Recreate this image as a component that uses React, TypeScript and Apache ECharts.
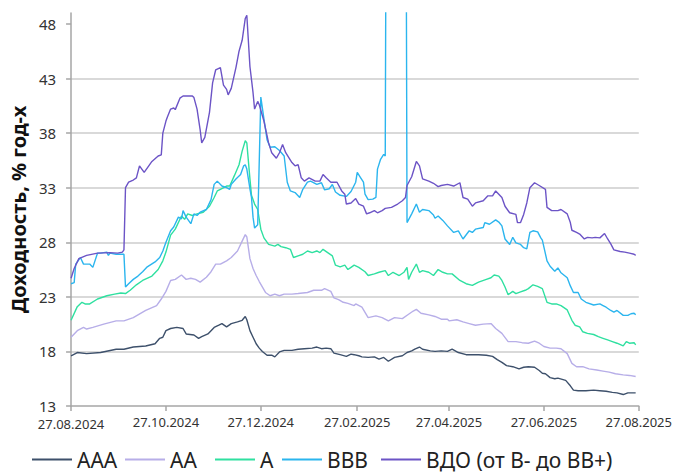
import { useEffect, useRef } from 'react';
import * as echarts from 'echarts';

// Day offsets from 27.08.2024 and their labels
const tickDays = [0, 61, 122, 184, 243, 304, 365];
const tickLabels = ['27.08.2024', '27.10.2024', '27.12.2024', '27.02.2025', '27.04.2025', '27.06.2025', '27.08.2025'];
const yTicks = [13, 18, 23, 28, 33, 38, 43, 48];

const seriesNames = ['ААА', 'АА', 'А', 'ВВВ', 'ВДО (от В- до ВВ+)'];
const seriesColors = ['#3d506b', '#b7aee8', '#2fe0a0', '#2bb5ee', '#6c54c6'];

// [day offset, yield %]
const aaa: [number, number][] = [
  [0, 17.6], [4, 17.9], [10, 17.8], [19, 17.9], [29, 18.2], [34, 18.2], [40, 18.4], [48, 18.5], [54, 18.7], [57, 19.2], [59, 19.3],
  [61, 19.9], [64, 20.1], [68, 20.2], [72, 20.1], [74, 19.6], [79, 19.5], [82, 19.2], [84, 19.35], [88, 19.6], [92, 20.2], [95, 20.4],
  [97, 20.55], [100, 20.25], [103, 20.55], [107, 20.7], [110, 20.85], [112, 21.2], [113, 20.9], [115, 19.9], [117, 19.3], [119, 18.7],
  [121, 18.3], [123, 18.0], [126, 17.65], [129, 17.65], [131, 17.5], [134, 17.95], [137, 18.1], [142, 18.1], [146, 18.2], [150, 18.25],
  [155, 18.3], [158, 18.4], [161, 18.25], [164, 18.3], [167, 18.25], [169, 17.85], [173, 17.7], [177, 17.55], [180, 17.75], [182, 17.7],
  [185, 17.6], [187, 17.5], [191, 17.45], [195, 17.5], [198, 17.3], [201, 17.45], [204, 17.1], [208, 17.45], [213, 17.6], [216, 17.9],
  [219, 18.05], [221, 18.2], [224, 18.4], [226, 18.2], [231, 18.05], [234, 18.0], [238, 18.05], [242, 18.0], [245, 18.2], [249, 17.9],
  [254, 17.7], [258, 17.7], [262, 17.7], [267, 17.65], [271, 17.55], [274, 17.25], [277, 17.0], [280, 16.7], [284, 16.6], [288, 16.4],
  [291, 16.55], [294, 16.6], [298, 16.55], [301, 16.25], [303, 16.0], [305, 15.95], [308, 15.6], [311, 15.5], [313, 15.55], [318, 15.35],
  [321, 14.85], [323, 14.45], [326, 14.4], [331, 14.4], [336, 14.45], [340, 14.4], [344, 14.35], [348, 14.25], [351, 14.2], [355, 14.05],
  [358, 14.2], [361, 14.2], [363, 14.2],
];

const aa: [number, number][] = [
  [0, 19.3], [4, 19.9], [8, 20.2], [10, 20.05], [14, 20.2], [21, 20.5], [29, 20.8], [34, 20.8], [40, 21.1], [48, 21.75], [55, 22.2],
  [58, 22.8], [61, 23.5], [64, 24.5], [67, 24.6], [71, 25.0], [74, 24.6], [77, 24.7], [80, 24.6], [83, 24.35], [87, 24.8], [90, 25.3],
  [93, 26.0], [96, 26.0], [100, 26.3], [103, 26.6], [107, 27.2], [110, 28.1], [112, 28.7], [113, 28.5], [115, 26.5], [117, 25.6],
  [119, 24.95], [121, 24.4], [125, 23.4], [128, 23.1], [131, 23.25], [134, 23.1], [137, 23.25], [142, 23.25], [146, 23.3], [152, 23.4],
  [156, 23.6], [161, 23.6], [163, 23.75], [167, 23.5], [169, 22.9], [172, 22.75], [175, 22.5], [178, 22.4], [182, 22.2], [183, 22.35],
  [187, 22.05], [191, 21.1], [196, 21.25], [200, 21.1], [204, 20.8], [208, 21.1], [213, 21.0], [217, 21.4], [220, 21.7], [222, 21.85],
  [225, 21.5], [230, 21.35], [234, 21.2], [238, 20.95], [242, 20.95], [243, 20.8], [248, 20.9], [252, 20.7], [256, 20.55], [260, 20.4],
  [265, 20.5], [270, 20.55], [273, 20.1], [277, 19.65], [281, 18.9], [286, 18.9], [290, 18.8], [294, 18.75], [298, 18.95], [301, 18.75],
  [304, 18.45], [308, 18.3], [312, 18.3], [315, 18.25], [319, 17.8], [322, 16.9], [325, 16.6], [329, 16.6], [333, 16.4], [338, 16.3],
  [342, 16.2], [346, 16.1], [350, 15.95], [355, 15.85], [359, 15.8], [363, 15.7],
];

const a: [number, number][] = [
  [0, 20.85], [4, 22.1], [7, 22.5], [9, 22.35], [12, 22.35], [17, 22.8], [23, 23.1], [28, 23.25], [32, 23.35], [35, 23.3], [38, 23.6],
  [42, 24.1], [46, 24.5], [52, 24.9], [56, 25.5], [59, 26.3], [61, 27.1], [64, 28.65], [67, 29.2], [71, 30.4], [73, 30.1], [75, 30.6],
  [78, 30.45], [81, 30.6], [85, 30.75], [89, 31.3], [92, 32.1], [94, 32.7], [96, 32.85], [100, 33.15], [102, 33.15], [105, 34.1],
  [108, 35.1], [110, 36.35], [112, 37.3], [113, 37.1], [115, 33.8], [116, 32.3], [118, 31.5], [120, 31.0], [122, 29.2], [124, 28.4],
  [127, 27.8], [131, 27.65], [133, 27.8], [135, 27.6], [138, 27.5], [141, 27.35], [143, 26.6], [146, 26.75], [149, 26.9], [152, 27.2],
  [155, 27.05], [158, 27.2], [160, 27.05], [162, 27.35], [165, 27.05], [168, 26.75], [170, 25.9], [173, 25.75], [176, 25.9], [178, 25.5],
  [180, 25.7], [182, 25.9], [185, 25.7], [189, 25.3], [191, 24.95], [195, 25.1], [198, 25.25], [202, 25.4], [204, 24.95], [207, 25.25],
  [211, 24.95], [214, 25.25], [216, 25.7], [217, 24.6], [219, 25.25], [222, 26.0], [224, 25.25], [226, 25.4], [230, 25.25], [233, 24.95],
  [236, 25.5], [239, 25.25], [242, 25.1], [245, 25.1], [250, 24.5], [254, 24.2], [258, 24.05], [262, 24.35], [267, 24.6], [270, 24.75],
  [272, 25.0], [275, 24.9], [277, 24.5], [279, 23.9], [281, 23.2], [284, 23.5], [286, 23.3], [289, 23.45], [292, 23.6], [294, 23.75],
  [297, 24.1], [300, 23.95], [303, 23.75], [306, 22.5], [309, 22.35], [312, 22.35], [315, 22.2], [319, 21.8], [322, 20.85], [324, 20.4],
  [327, 20.25], [329, 19.8], [332, 19.65], [336, 19.55], [339, 19.35], [342, 19.2], [345, 19.05], [348, 18.9], [351, 18.75], [355, 18.5],
  [357, 18.9], [359, 18.75], [362, 18.8], [363, 18.6],
];

const bbb: [number, number][] = [
  [0, 24.2], [2, 24.3], [3, 26.0], [6, 26.6], [8, 26.0], [12, 26.0], [14, 25.7], [17, 27.0], [19, 27.0], [23, 27.1], [24, 26.8],
  [25, 27.0], [29, 26.9], [34, 26.9], [35, 23.9], [37, 24.2], [40, 24.6], [43, 24.9], [46, 25.3], [49, 25.75], [54, 26.2], [57, 26.6],
  [59, 27.2], [61, 28.0], [64, 29.05], [66, 29.4], [69, 30.3], [71, 30.15], [72, 30.9], [74, 30.3], [77, 29.7], [79, 30.6], [81, 30.45],
  [83, 30.75], [87, 31.0], [90, 31.9], [92, 33.3], [94, 33.6], [97, 33.15], [100, 33.0], [102, 32.85], [103, 33.3], [106, 33.8],
  [109, 34.2], [111, 35.0], [112, 35.1], [113, 34.7], [115, 32.9], [116, 32.1], [117, 30.3], [118, 29.3], [120, 29.6], [122, 41.3],
  [124, 39.3], [126, 37.4], [128, 36.7], [131, 36.75], [134, 36.4], [137, 35.9], [139, 33.5], [141, 32.7], [144, 32.55], [147, 32.1],
  [149, 32.85], [152, 33.5], [154, 33.6], [158, 33.3], [161, 33.45], [163, 32.8], [166, 32.9], [168, 33.3], [170, 32.6], [173, 32.3],
  [177, 32.2], [180, 32.65], [183, 33.5], [184, 34.4], [186, 33.95], [188, 33.5], [189, 32.4], [191, 31.9], [194, 31.95], [196, 32.1],
  [197, 34.7], [199, 35.6], [201, 36.05], [202, 35.9], [203, 80], [215, 80], [216, 29.8], [219, 30.6], [222, 31.5], [224, 30.75],
  [226, 31.0], [230, 30.9], [233, 30.5], [234, 30.2], [236, 30.4], [239, 30.0], [242, 29.5], [246, 28.9], [249, 29.05], [252, 28.3],
  [256, 29.05], [258, 28.9], [260, 29.2], [265, 29.35], [266, 29.8], [269, 29.65], [273, 30.05], [275, 29.85], [277, 29.5], [279, 28.3],
  [282, 27.8], [284, 28.45], [286, 27.95], [289, 27.8], [291, 27.5], [293, 27.4], [295, 28.9], [297, 29.05], [300, 28.95], [302, 28.4],
  [303, 28.2], [306, 26.3], [308, 25.8], [311, 25.35], [313, 25.65], [315, 25.2], [319, 24.75], [321, 24.0], [323, 23.4], [326, 23.4],
  [328, 22.8], [331, 22.5], [336, 22.25], [340, 22.35], [342, 22.2], [344, 22.05], [347, 21.75], [349, 21.6], [351, 21.75], [355, 21.3],
  [358, 21.3], [360, 21.45], [362, 21.5], [363, 21.35],
];

const vdo: [number, number][] = [
  [0, 24.7], [2, 25.6], [5, 26.5], [10, 26.8], [17, 27.0], [25, 27.05], [30, 27.0], [33, 27.1], [34, 27.3], [35, 33.0], [37, 33.5],
  [40, 33.7], [42, 33.9], [44, 35.0], [47, 34.4], [52, 35.4], [56, 35.9], [58, 36.0], [59, 38.0], [61, 39.1], [62, 39.5], [64, 40.2],
  [66, 40.3], [67, 40.15], [70, 41.2], [72, 41.4], [78, 41.4], [79, 41.25], [81, 40.2], [83, 38.3], [84, 37.1], [86, 37.6], [89, 39.9],
  [91, 42.6], [93, 43.8], [96, 44.0], [98, 42.4], [100, 42.0], [101, 41.5], [103, 42.1], [106, 44.0], [108, 45.5], [110, 46.5],
  [112, 48.5], [113, 48.8], [115, 44.1], [117, 41.7], [118, 40.2], [120, 40.9], [121, 40.6], [124, 39.1], [127, 37.1], [129, 36.2],
  [132, 35.7], [134, 36.2], [136, 36.95], [138, 36.2], [142, 35.3], [144, 35.0], [146, 35.1], [148, 33.9], [150, 33.6], [153, 33.9],
  [157, 33.6], [160, 33.6], [162, 34.2], [164, 33.9], [167, 33.5], [171, 33.5], [174, 32.7], [176, 32.4], [177, 31.5], [180, 31.6],
  [183, 32.0], [185, 31.5], [188, 31.3], [190, 30.6], [192, 30.7], [195, 30.9], [197, 30.7], [200, 30.9], [202, 31.1], [206, 31.2],
  [210, 31.5], [213, 31.8], [215, 32.1], [216, 33.2], [219, 34.0], [222, 35.4], [224, 35.0], [226, 33.8], [230, 33.6], [233, 33.4],
  [236, 33.1], [238, 33.2], [242, 33.3], [246, 33.15], [250, 33.45], [252, 32.1], [255, 31.95], [258, 31.3], [260, 31.6], [265, 31.8],
  [268, 32.25], [271, 32.25], [273, 32.7], [275, 32.4], [277, 32.1], [279, 31.3], [282, 30.7], [286, 30.55], [287, 29.8], [289, 29.8],
  [291, 30.55], [293, 31.6], [295, 33.0], [298, 33.45], [301, 33.2], [305, 32.85], [306, 31.2], [309, 30.9], [313, 30.9], [315, 31.0],
  [319, 30.6], [321, 29.8], [322, 29.1], [325, 28.9], [327, 28.75], [330, 28.3], [332, 28.45], [335, 28.4], [337, 28.45], [340, 28.4],
  [343, 28.8], [345, 28.3], [347, 27.85], [349, 27.3], [353, 27.15], [356, 27.1], [359, 27.0], [362, 26.9], [363, 26.8],
];

const seriesData = [aaa, aa, a, bbb, vdo];
const legendLeft = [32, 125, 215, 282, 381];

const FONT = "'Noto Sans', sans-serif";

export default function App() {
  const ref = useRef<HTMLDivElement>(null);

  useEffect(() => {
    if (!ref.current) return;
    const chart = echarts.init(ref.current, null, { renderer: 'svg' });
    chart.setOption({
      animation: false,
      backgroundColor: '#ffffff',
      textStyle: { fontFamily: FONT },
      grid: { left: 69, right: 32, top: 13, bottom: 66, containLabel: false },
      legend: seriesNames.map((n, i) => ({
        data: [n],
        left: legendLeft[i],
        top: 449,
        padding: 0,
        itemWidth: 40,
        itemHeight: 2,
        icon: 'rect',
        selectedMode: false,
        textStyle: { fontSize: 21, color: '#222', fontFamily: FONT, lineHeight: 21 },
      })),
      xAxis: {
        type: 'value',
        min: 0,
        max: 365,
        axisLine: { show: true, lineStyle: { color: '#a6a6a6', width: 1.5 } },
        axisTick: { show: true, length: 5, customValues: tickDays, lineStyle: { color: '#a6a6a6', width: 1.5 } },
        axisLabel: {
          customValues: tickDays,
          formatter: (v: number) => {
            const i = tickDays.indexOf(v);
            if (i < 0) return '';
            return i === 0 ? '{first|' + tickLabels[i] + '}' : tickLabels[i];
          },
          rich: {
            first: { fontSize: 13, lineHeight: 13, color: '#333', fontFamily: FONT, padding: [4, 0, 0, 0] },
          },
          fontSize: 13,
          lineHeight: 13,
          color: '#333',
          margin: 9,
          fontFamily: FONT,
        },
        splitLine: { show: false },
      },
      yAxis: {
        type: 'value',
        min: 13,
        max: 49,
        interval: 5,
        name: 'Доходность, % год-х',
        nameLocation: 'middle',
        nameGap: 32,
        nameTextStyle: { fontSize: 20, fontWeight: 'bold', color: '#111', fontFamily: FONT },
        axisLine: { show: true, lineStyle: { color: '#a6a6a6', width: 1.5 } },
        axisTick: { show: true, length: 5, customValues: yTicks, lineStyle: { color: '#a6a6a6', width: 1.5 } },
        axisLabel: {
          customValues: yTicks,
          formatter: (v: number) => (yTicks.includes(v) ? String(v) : ''),
          fontSize: 15,
          lineHeight: 13,
          color: '#333',
          margin: 15,
          fontFamily: FONT,
        },
        splitLine: { show: true, showMaxLine: false, showMinLine: false, lineStyle: { color: '#cccccc', width: 1.5 } },
      },
      series: seriesNames.map((n, i) => ({
        name: n,
        type: 'line',
        data: seriesData[i],
        showSymbol: false,
        symbol: 'none',
        clip: true,
        color: seriesColors[i],
        lineStyle: { color: seriesColors[i], width: 1.4 },
        emphasis: { disabled: true },
      })),
    });
    return () => chart.dispose();
  }, []);

  return <div ref={ref} style={{ position: 'fixed', left: 0, top: 0, width: 675, height: 472 }} />;
}
